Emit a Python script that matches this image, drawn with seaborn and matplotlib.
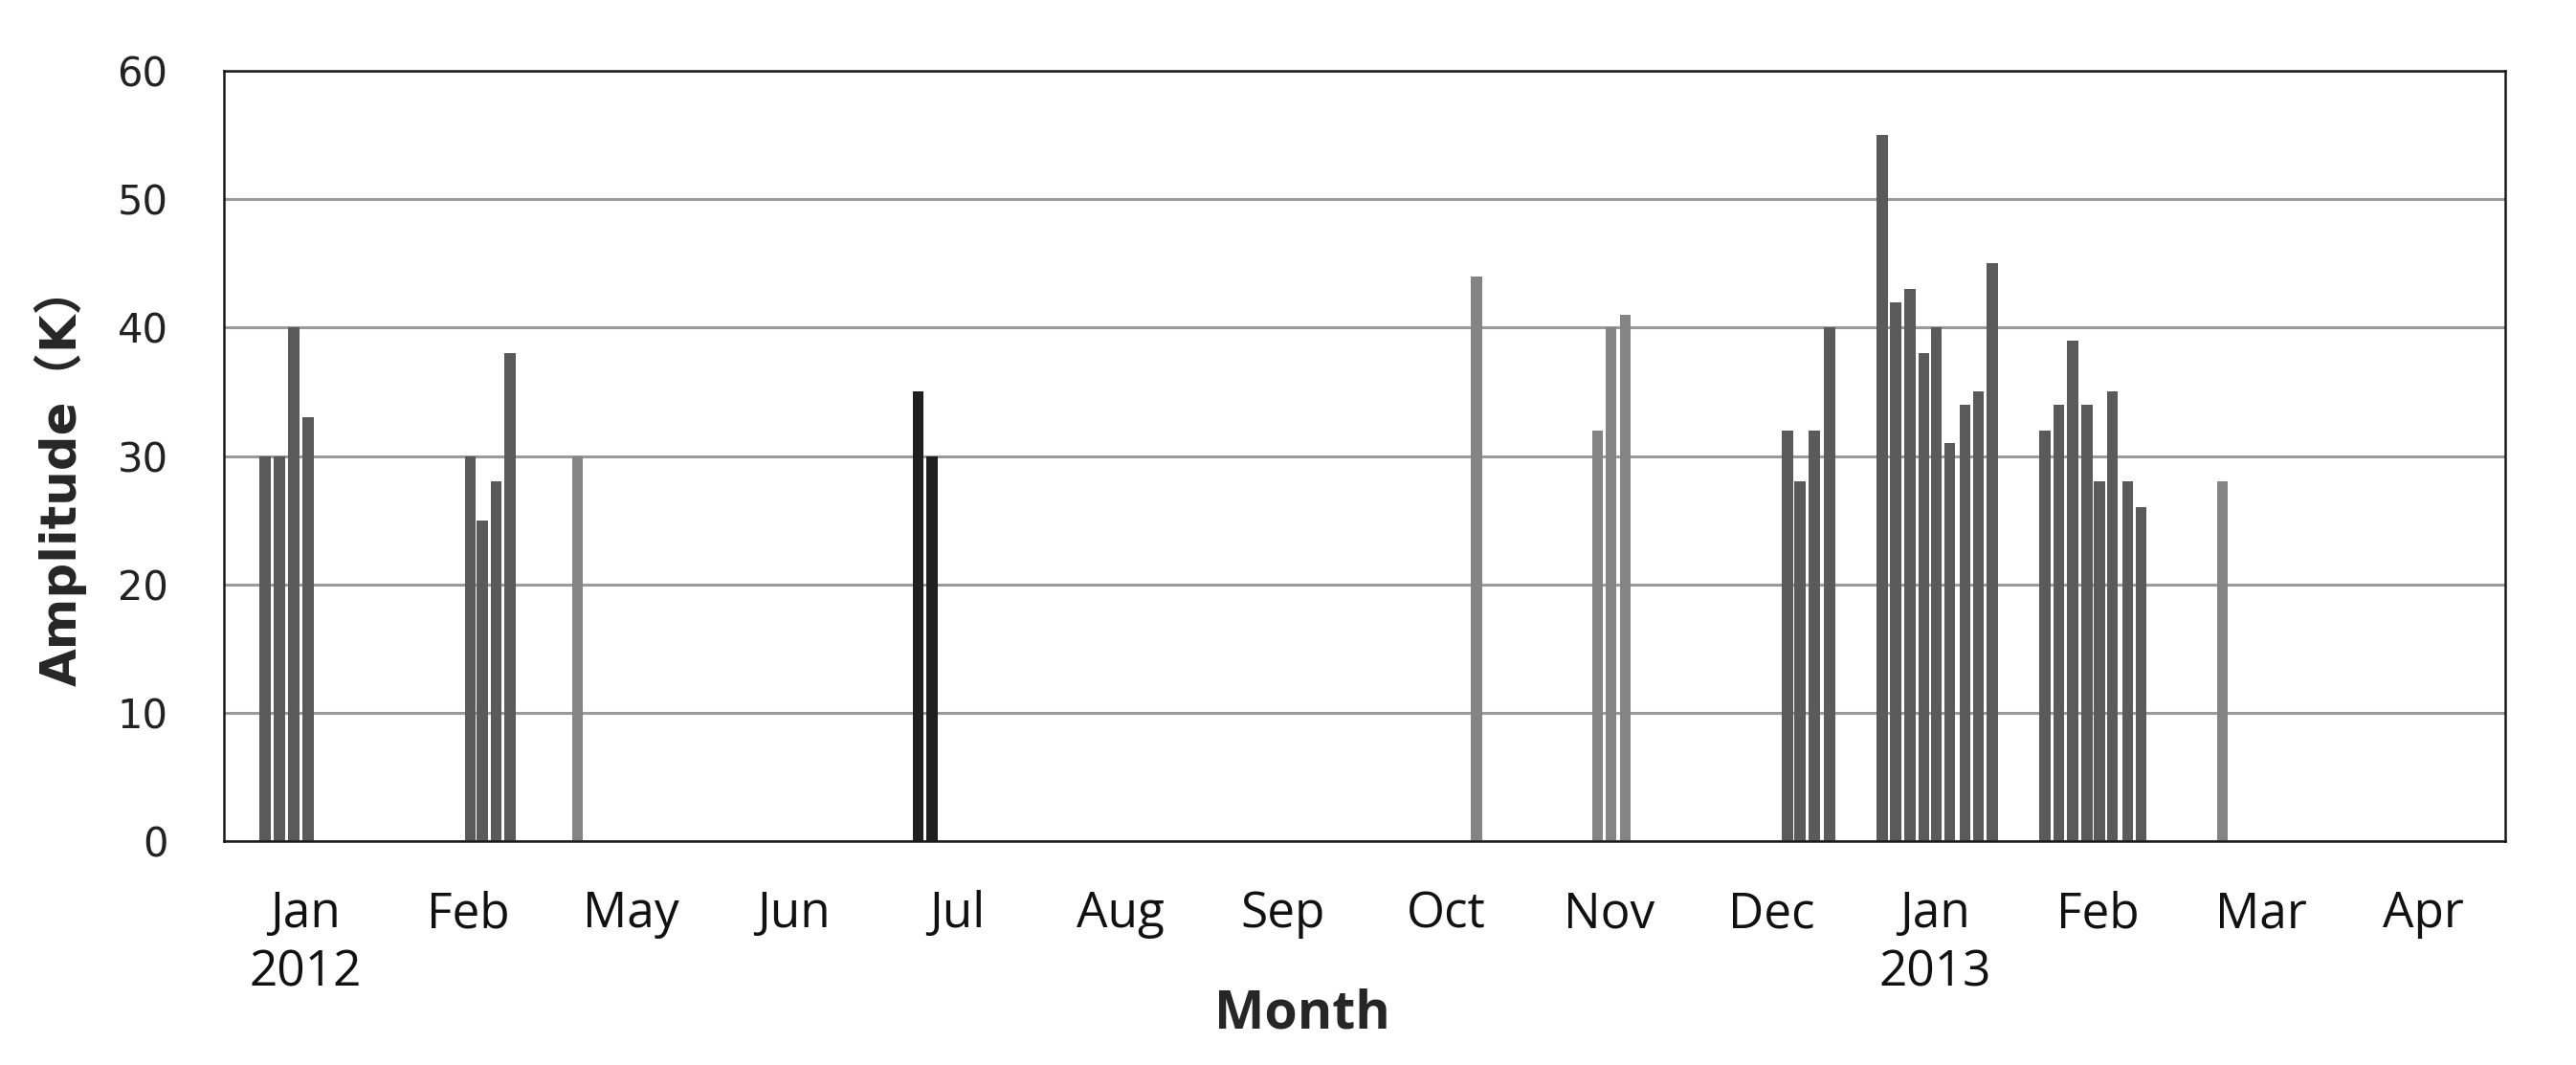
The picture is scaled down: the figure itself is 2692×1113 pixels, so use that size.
import numpy as np
import pandas as pd
import matplotlib
matplotlib.use('Agg')
import matplotlib.pyplot as plt
import seaborn as sns

# Month categories on the x axis (year shown under the January labels)
month_labels = ['Jan\n2012', 'Feb', 'May', 'Jun', 'Jul', 'Aug', 'Sep',
                'Oct', 'Nov', 'Dec', 'Jan\n2013', 'Feb', 'Mar', 'Apr']

# Each observation: month category index, day within the month, amplitude, shade group
obs_month = [0, 0, 0, 0,
             1, 1, 1, 1,
             2,
             4, 4,
             7,
             8, 8, 8,
             9, 9, 9, 9,
             10, 10, 10, 10, 10, 10, 10, 10, 10,
             11, 11, 11, 11, 11, 11, 11, 11,
             12]
obs_day = [7.6, 10.2, 12.9, 15.5,
           15.4, 17.6, 20.1, 22.7,
           5.1,
           7.8, 10.4,
           20.6,
           12.9, 15.4, 18.0,
           17.9, 20.2, 22.8, 25.6,
           5.3, 7.8, 10.4, 13.0, 15.3, 17.7, 20.6, 23.0, 25.6,
           5.3, 7.8, 10.4, 13.0, 15.3, 17.7, 20.5, 23.0,
           7.9]
amplitude = [30, 30, 40, 33,
             30, 25, 28, 38,
             30,
             35, 30,
             44,
             32, 40, 41,
             32, 28, 32, 40,
             55, 42, 43, 38, 40, 31, 34, 35, 45,
             32, 34, 39, 34, 28, 35, 28, 26,
             28]
shade = (['dark'] * 8 + ['light'] + ['black'] * 2 + ['light'] * 4
         + ['dark'] * 21 + ['light'])

shade_colors = {'dark': '#5a5a5a', 'light': '#848484', 'black': '#1f1f1f'}

data = pd.DataFrame({
    'pos': np.array(obs_month) + np.array(obs_day) / 30.0,
    'Amplitude': amplitude,
    'shade': shade,
})

sns.set_style('white')

narrow = ['Liberation Sans Narrow', 'Open Sans', 'DejaVu Sans']

fig = plt.figure(figsize=(26.92, 11.13), dpi=100)
ax = fig.add_axes([0.0869, 0.2102, 0.8856, 0.7233])

# bar width is relative to the smallest gap between positions in native scale
min_gap = np.min(np.diff(np.unique(data['pos'])))
bar_w = 0.067 / min_gap

sns.barplot(data=data, x='pos', y='Amplitude', hue='shade', palette=shade_colors,
            native_scale=True, dodge=False, width=bar_w, errorbar=None,
            saturation=1, legend=False, linewidth=0, ax=ax)

ax.set_xlim(0, len(month_labels))
ax.set_ylim(0, 60)

# Gridlines behind bars
ax.set_axisbelow(True)
ax.yaxis.grid(True, color='#9a9a9a', linewidth=2.2)
ax.xaxis.grid(False)

# y ticks
ax.set_yticks(np.arange(0, 61, 10))
ax.tick_params(axis='y', direction='in', length=12, width=1.8, color='#111111',
               pad=42, labelsize=30, labelcolor='#222222')

# x: boundary ticks (major) and centred month labels (minor)
ax.set_xticks(np.arange(1, len(month_labels)))
ax.set_xticklabels([])
ax.set_xticks(np.arange(len(month_labels)) + 0.5, minor=True)
ax.set_xticklabels(month_labels, minor=True, fontfamily=narrow, fontsize=37,
                   linespacing=1.25, color='#111111')
ax.tick_params(axis='x', which='major', direction='in', length=9, width=1.5,
               color='#111111')
ax.tick_params(axis='x', which='minor', length=0, pad=37)

for s in ax.spines.values():
    s.set_visible(True)
    s.set_color('#1a1a1a')
    s.set_linewidth(1.8)

ax.set_xlabel('Month', fontfamily=narrow, fontsize=40, fontweight='bold')
ax.xaxis.set_label_coords(0.4725, -0.19)
ax.xaxis.label.set_verticalalignment('top')

ax.set_ylabel('Amplitude（K）', fontfamily=['DejaVu Sans', 'Noto Sans CJK SC'],
              fontsize=37, fontweight='bold')
ax.yaxis.set_label_coords(-0.060, 0.475)

fig.savefig('out.png', dpi=100)
